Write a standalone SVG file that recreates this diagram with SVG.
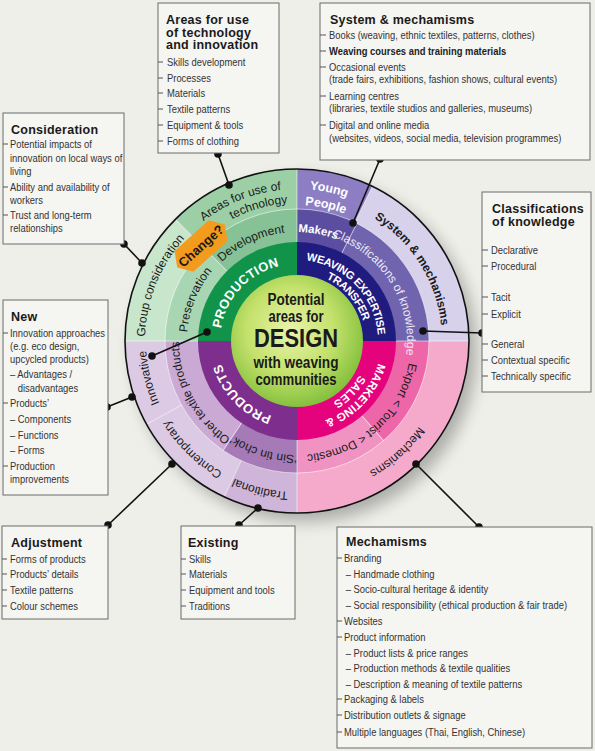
<svg xmlns="http://www.w3.org/2000/svg" width="595" height="751" viewBox="0 0 595 751">
<defs>
<style>
.bx{fill:#f5f5f2;stroke:#6b6b6b;stroke-width:1}
.tt{font-family:"Liberation Sans",Arial,sans-serif;font-size:12.5px;font-weight:bold;letter-spacing:0.25px;fill:#1a1a1a}
.it{font-family:"Liberation Sans",Arial,sans-serif;font-size:11px;fill:#333}
.tk{stroke:#555;stroke-width:1}
.wl{font-family:"Liberation Sans",Arial,sans-serif;font-size:12px;fill:#1a1a1a}
.ww{font-family:"Liberation Sans",Arial,sans-serif;font-weight:bold;fill:#fff}
.ct{font-family:"Liberation Sans",Arial,sans-serif;font-weight:bold;fill:#1a1a1a;text-anchor:middle}
.sep{stroke:#fff;stroke-opacity:0.55;stroke-width:1}
.cn{stroke:#111;stroke-width:1.6;fill:none}
.dot{fill:#111}
</style>
<radialGradient id="cg" cx="0.45" cy="0.42" r="0.6">
<stop offset="0" stop-color="#e8f4aa"/><stop offset="0.55" stop-color="#c4e16c"/><stop offset="1" stop-color="#80bf3a"/>
</radialGradient>
<filter id="sh" x="-30%" y="-30%" width="160%" height="160%"><feGaussianBlur stdDeviation="8"/></filter>
<path id="a69" d="M -67.95 -11.98 A 69 69 0 0 1 67.95 -11.98"/>
<path id="a71" d="M -69.92 -12.33 A 71 71 0 0 1 69.92 -12.33"/>
<path id="a77" d="M -75.83 -13.37 A 77 77 0 0 1 75.83 -13.37"/>
<path id="a79" d="M -77.80 -13.72 A 79 79 0 0 1 77.80 -13.72"/>
<path id="a81" d="M -79.77 -14.07 A 81 81 0 0 1 79.77 -14.07"/>
<path id="a84" d="M -82.72 -14.59 A 84 84 0 0 1 82.72 -14.59"/>
<path id="a109" d="M -107.34 -18.93 A 109 109 0 0 1 107.34 -18.93"/>
<path id="a110" d="M -108.33 -19.10 A 110 110 0 0 1 108.33 -19.10"/>
<path id="a114" d="M -112.27 -19.80 A 114 114 0 0 1 112.27 -19.80"/>
<path id="a118" d="M -116.21 -20.49 A 118 118 0 0 1 116.21 -20.49"/>
<path id="a136" d="M -133.93 -23.62 A 136 136 0 0 1 133.93 -23.62"/>
<path id="a138" d="M -135.90 -23.96 A 138 138 0 0 1 135.90 -23.96"/>
<path id="a145" d="M -142.80 -25.18 A 145 145 0 0 1 142.80 -25.18"/>
<path id="a149" d="M -146.74 -25.87 A 149 149 0 0 1 146.74 -25.87"/>
<path id="a151" d="M -148.70 -26.22 A 151 151 0 0 1 148.70 -26.22"/>
<path id="a152" d="M -149.69 -26.39 A 152 152 0 0 1 149.69 -26.39"/>
</defs>
<rect width="595" height="751" fill="#efefea"/>

<!-- wheel -->
<g id="wheel">
<circle cx="305" cy="350" r="172" fill="#000" opacity="0.28" filter="url(#sh)"/>
<g id="segments" transform="translate(297 341)">
<g id="outer-ring">
<path d="M0 0L0 -172A172 172 0 0 1 121.62 -121.62Z" transform="rotate(270)" fill="#c8e6cb"/>
<path d="M0 0L0 -172A172 172 0 0 1 121.62 -121.62Z" transform="rotate(315)" fill="#9dcfa7"/>
<path d="M0 0L0 -172A172 172 0 0 1 75.40 -154.59Z" fill="#8d7ec3"/>
<path d="M0 0L0 -172A172 172 0 0 1 154.59 -75.40Z" transform="rotate(26)" fill="#d7d1ec"/>
<path d="M0 0L0 -172A172 172 0 0 1 172 0Z" transform="rotate(90)" fill="#f5a9cb"/>
<path d="M0 0L0 -172A172 172 0 0 1 72.69 -155.89Z" transform="rotate(180)" fill="#cfb5d9"/>
<path d="M0 0L0 -172A172 172 0 0 1 101.10 -139.15Z" transform="rotate(205)" fill="#dccae4"/>
<path d="M0 0L0 -172A172 172 0 0 1 83.39 -150.43Z" transform="rotate(241)" fill="#dccae4"/>
</g>
<g id="middle-ring">
<path d="M0 0L0 -132A132 132 0 0 1 93.34 -93.34Z" transform="rotate(270)" fill="#a8d6b2"/>
<path d="M0 0L0 -132A132 132 0 0 1 93.34 -93.34Z" transform="rotate(315)" fill="#86c295"/>
<path d="M0 0L0 -132A132 132 0 0 1 59.93 -117.61Z" fill="#5b4d9f"/>
<path d="M0 0L0 -132A132 132 0 0 1 117.61 -59.93Z" transform="rotate(27)" fill="#6f64ad"/>
<path d="M0 0L0 -132A132 132 0 0 1 99.62 -86.60Z" transform="rotate(90)" fill="#ed67a8"/>
<path d="M0 0L0 -132A132 132 0 0 1 86.60 -99.62Z" transform="rotate(139)" fill="#f193c2"/>
<path d="M0 0L0 -132A132 132 0 0 1 73.81 -109.43Z" transform="rotate(180)" fill="#a57ab6"/>
<path d="M0 0L0 -132A132 132 0 0 1 109.43 -73.81Z" transform="rotate(214)" fill="#caaad5"/>
</g>
<g id="inner-ring">
<path d="M0 0L0 -99A99 99 0 0 1 99 0Z" transform="rotate(270)" fill="#119349"/>
<path d="M0 0L0 -99A99 99 0 0 1 99 0Z" fill="#201c7f"/>
<path d="M0 0L0 -99A99 99 0 0 1 99 0Z" transform="rotate(90)" fill="#e5027d"/>
<path d="M0 0L0 -99A99 99 0 0 1 99 0Z" transform="rotate(180)" fill="#7e2e8d"/>
</g>
<g id="separators">
<circle r="132" class="sep" fill="none"/>
<line class="sep" x1="0" y1="-132" x2="0" y2="-172" transform="rotate(26)"/>
<line class="sep" x1="0" y1="-132" x2="0" y2="-172" transform="rotate(90)"/>
<line class="sep" x1="0" y1="-132" x2="0" y2="-172" transform="rotate(180)"/>
<line class="sep" x1="0" y1="-132" x2="0" y2="-172" transform="rotate(205)"/>
<line class="sep" x1="0" y1="-132" x2="0" y2="-172" transform="rotate(241)"/>
<line class="sep" x1="0" y1="-132" x2="0" y2="-172" transform="rotate(270)"/>
<line class="sep" x1="0" y1="-132" x2="0" y2="-172" transform="rotate(315)"/>
<line class="sep" x1="0" y1="-132" x2="0" y2="-172"/>
<line class="sep" x1="0" y1="-99" x2="0" y2="-132"/>
<line class="sep" x1="0" y1="-99" x2="0" y2="-132" transform="rotate(27)"/>
<line class="sep" x1="0" y1="-99" x2="0" y2="-132" transform="rotate(90)"/>
<line class="sep" x1="0" y1="-99" x2="0" y2="-132" transform="rotate(139)"/>
<line class="sep" x1="0" y1="-99" x2="0" y2="-132" transform="rotate(180)"/>
<line class="sep" x1="0" y1="-99" x2="0" y2="-132" transform="rotate(214)"/>
<line class="sep" x1="0" y1="-99" x2="0" y2="-132" transform="rotate(270)"/>
<line class="sep" x1="0" y1="-99" x2="0" y2="-132" transform="rotate(315)"/>
</g>
</g>
<circle cx="297" cy="341" r="172" fill="none" stroke="#111" stroke-width="1.6"/>

<g id="center">
<circle cx="297" cy="341" r="66" fill="url(#cg)"/>
<text class="ct" x="296" y="305" font-size="16" textLength="57" lengthAdjust="spacingAndGlyphs">Potential</text>
<text class="ct" x="296" y="322" font-size="16" textLength="55" lengthAdjust="spacingAndGlyphs">areas for</text>
<text class="ct" x="296" y="347" font-size="25" textLength="84" lengthAdjust="spacingAndGlyphs">DESIGN</text>
<text class="ct" x="296" y="368" font-size="16" textLength="85" lengthAdjust="spacingAndGlyphs">with weaving</text>
<text class="ct" x="296" y="385" font-size="16" textLength="81" lengthAdjust="spacingAndGlyphs">communities</text>
</g>

<g id="production"><g transform="translate(297 341) rotate(313)"><text class="ww" font-size="13" letter-spacing="0.3"><textPath href="#a77" startOffset="50%" text-anchor="middle">PRODUCTION</textPath></text></g></g>
<g id="weaving-transfer">
<g transform="translate(297 341) rotate(46)"><text class="ww" font-size="11" letter-spacing="-0.3"><textPath href="#a81" startOffset="50%" text-anchor="middle">WEAVING EXPERTISE</textPath></text></g>
<g transform="translate(297 341) rotate(49)"><text class="ww" font-size="11" letter-spacing="-0.3"><textPath href="#a69" startOffset="50%" text-anchor="middle">TRANSFER</textPath></text></g>
</g>
<g id="marketing-sales">
<g transform="translate(297 341) rotate(133)"><text class="ww" font-size="11.5"><textPath href="#a84" startOffset="50%" text-anchor="middle">MARKETING &amp;</textPath></text></g>
<g transform="translate(297 341) rotate(134)"><text class="ww" font-size="11.5"><textPath href="#a71" startOffset="50%" text-anchor="middle">SALES</textPath></text></g>
</g>
<g id="products"><g transform="translate(297 341) rotate(226)"><text class="ww" font-size="13" letter-spacing="0.3"><textPath href="#a79" startOffset="50%" text-anchor="middle">PRODUCTS</textPath></text></g></g>

<g id="development"><g transform="translate(297 341) rotate(335)"><text class="wl" font-size="12.5"><textPath href="#a109" startOffset="50%" text-anchor="middle">Development</textPath></text></g></g>
<g id="preservation"><g transform="translate(297 341) rotate(292)"><text class="wl" font-size="12.5"><textPath href="#a110" startOffset="50%" text-anchor="middle">Preservation</textPath></text></g></g>
<g id="makers"><g transform="translate(297 341) rotate(11)"><text class="ww" font-size="11.5"><textPath href="#a109" startOffset="50%" text-anchor="middle">Makers</textPath></text></g></g>
<g id="classifications"><g transform="translate(297 341) rotate(58)"><text class="wl" font-size="8.8" style="fill:#ece8f6"><textPath href="#a110" startOffset="50%" text-anchor="middle">Classifications of knowledge</textPath></text></g></g>
<g id="export"><g transform="translate(297 341) rotate(138)"><text class="wl"><textPath href="#a114" startOffset="50%" text-anchor="middle">Export &lt; Tourist &lt; Domestic</textPath></text></g></g>
<g id="sin-tin-chok"><g transform="translate(297 341) rotate(197)"><text class="wl"><textPath href="#a114" startOffset="50%" text-anchor="middle">‘Sin tin chok’</textPath></text></g></g>
<g id="other-textile"><g transform="translate(297 341) rotate(242)"><text class="wl"><textPath href="#a118" startOffset="50%" text-anchor="middle">Other textile products</textPath></text></g></g>

<g id="areas-tech">
<g transform="translate(297 341) rotate(338)"><text class="wl" font-size="12.5"><textPath href="#a152" startOffset="50%" text-anchor="middle">Areas for use of</textPath></text></g>
<g transform="translate(297 341) rotate(344)"><text class="wl" font-size="12.5"><textPath href="#a138" startOffset="50%" text-anchor="middle">technology</textPath></text></g>
</g>
<g id="group-consideration"><g transform="translate(297 341) rotate(292)"><text class="wl" font-size="12.5"><textPath href="#a152" startOffset="50%" text-anchor="middle">Group consideration</textPath></text></g></g>
<g id="young-people">
<g transform="translate(297 341) rotate(12)"><text class="ww" font-size="12.5"><textPath href="#a152" startOffset="50%" text-anchor="middle">Young</textPath></text></g>
<g transform="translate(297 341) rotate(12)"><text class="ww" font-size="12.5"><textPath href="#a136" startOffset="50%" text-anchor="middle">People</textPath></text></g>
</g>
<g id="system-mech"><g transform="translate(297 341) rotate(58)"><text class="wl" font-size="11.5" font-weight="bold"><textPath href="#a145" startOffset="50%" text-anchor="middle">System &amp; mechanisms</textPath></text></g></g>
<g id="mechanisms-ring"><g transform="translate(297 341) rotate(138)"><text class="wl" font-size="12.5"><textPath href="#a149" startOffset="50%" text-anchor="middle">Mechanisms</textPath></text></g></g>
<g id="traditional"><g transform="translate(297 341) rotate(194)"><text class="wl" font-size="12.5"><textPath href="#a151" startOffset="50%" text-anchor="middle">Traditional</textPath></text></g></g>
<g id="contemporary"><g transform="translate(297 341) rotate(224)"><text class="wl" font-size="12.5"><textPath href="#a151" startOffset="50%" text-anchor="middle">Contemporary</textPath></text></g></g>
<g id="innovative"><g transform="translate(297 341) rotate(256)"><text class="wl" font-size="12.5"><textPath href="#a151" startOffset="50%" text-anchor="middle">Innovative</textPath></text></g></g>

<g id="change" transform="translate(201 246) rotate(-42)">
<polygon points="-32,0 -23,-14 23,-14 32,0 23,14 -23,14" fill="#f39b1d"/>
<text class="ct" x="0" y="4.5" font-size="13">Change?</text>
</g>
</g>

<!-- connectors -->
<g id="connectors">
<line class="cn" x1="218" y1="154" x2="229" y2="185"/>
<line class="cn" x1="380" y1="159" x2="353" y2="223"/>
<line class="cn" x1="124" y1="244" x2="142" y2="263"/>
<line class="cn" x1="107" y1="407" x2="132" y2="397"/>
<line class="cn" x1="152" y1="356" x2="207" y2="332"/>
<line class="cn" x1="423" y1="331" x2="482" y2="333"/>
<line class="cn" x1="108" y1="525" x2="172" y2="464"/>
<line class="cn" x1="239" y1="525" x2="258" y2="508"/>
<line class="cn" x1="479" y1="527" x2="416" y2="464"/>
<circle class="dot" cx="218" cy="154" r="3.8"/><circle class="dot" cx="229" cy="185" r="3.8"/>
<circle class="dot" cx="380" cy="159" r="3.8"/><circle class="dot" cx="353" cy="223" r="3.8"/>
<circle class="dot" cx="124" cy="244" r="3.8"/><circle class="dot" cx="142" cy="263" r="3.8"/>
<circle class="dot" cx="107" cy="407" r="3.8"/><circle class="dot" cx="132" cy="397" r="3.8"/>
<circle class="dot" cx="152" cy="356" r="3.8"/><circle class="dot" cx="207" cy="332" r="3.8"/>
<circle class="dot" cx="423" cy="331" r="3.8"/><circle class="dot" cx="482" cy="333" r="3.8"/>
<circle class="dot" cx="108" cy="525" r="3.8"/><circle class="dot" cx="172" cy="464" r="3.8"/>
<circle class="dot" cx="239" cy="525" r="3.8"/><circle class="dot" cx="258" cy="508" r="3.8"/>
<circle class="dot" cx="479" cy="527" r="3.8"/><circle class="dot" cx="416" cy="464" r="3.8"/>
</g>

<!-- boxes -->
<g id="box-areas">
<rect class="bx" x="158" y="3" width="121" height="150"/>
<text class="tt" x="166" y="24">Areas for use</text>
<text class="tt" x="166" y="36.5">of technology</text>
<text class="tt" x="166" y="49">and innovation</text>
<g class="tk"><line x1="158" y1="62" x2="163" y2="62"/><line x1="158" y1="78" x2="163" y2="78"/><line x1="158" y1="93" x2="163" y2="93"/><line x1="158" y1="109" x2="163" y2="109"/><line x1="158" y1="125" x2="163" y2="125"/><line x1="158" y1="141" x2="163" y2="141"/></g>
<g class="it" transform="translate(167 0) scale(0.855 1)">
<text y="66">Skills development</text><text y="82">Processes</text><text y="97">Materials</text><text y="113">Textile patterns</text><text y="129">Equipment &amp; tools</text><text y="145">Forms of clothing</text>
</g>
</g>

<g id="box-system">
<rect class="bx" x="320" y="3" width="270" height="157"/>
<text class="tt" x="330" y="24">System &amp; mechamisms</text>
<g class="tk"><line x1="320" y1="35" x2="326" y2="35"/><line x1="320" y1="51" x2="326" y2="51"/><line x1="320" y1="67" x2="326" y2="67"/><line x1="320" y1="96" x2="326" y2="96"/><line x1="320" y1="125" x2="326" y2="125"/></g>
<g class="it" transform="translate(329 0) scale(0.855 1)">
<text y="39">Books (weaving, ethnic textiles, patterns, clothes)</text>
<text y="55" font-weight="bold" fill="#222">Weaving courses and training materials</text>
<text y="71">Occasional events</text>
<text y="83">(trade fairs, exhibitions, fashion shows, cultural events)</text>
<text y="100">Learning centres</text>
<text y="112">(libraries, textile studios and galleries, museums)</text>
<text y="129">Digital and online media</text>
<text y="142">(websites, videos, social media, television programmes)</text>
</g>
</g>

<g id="box-consideration">
<rect class="bx" x="3" y="113" width="121" height="131"/>
<text class="tt" x="11" y="134">Consideration</text>
<g class="tk"><line x1="3" y1="144" x2="8" y2="144"/><line x1="3" y1="187" x2="8" y2="187"/><line x1="3" y1="215" x2="8" y2="215"/></g>
<g class="it" transform="translate(10 0) scale(0.855 1)">
<text y="148">Potential impacts of</text><text y="162">innovation on local ways of</text><text y="175">living</text>
<text y="191">Ability and availability of</text><text y="204">workers</text>
<text y="219">Trust and long-term</text><text y="232">relationships</text>
</g>
</g>

<g id="box-new">
<rect class="bx" x="3" y="300" width="105" height="195"/>
<text class="tt" x="11" y="321">New</text>
<g class="tk"><line x1="3" y1="333" x2="8" y2="333"/><line x1="3" y1="403" x2="8" y2="403"/><line x1="3" y1="466" x2="8" y2="466"/></g>
<g class="it" transform="translate(10 0) scale(0.855 1)">
<text y="337">Innovation approaches</text><text y="350">(e.g. eco design,</text><text y="363">upcycled products)</text>
<text y="378">– Advantages /</text><text x="9" y="392">disadvantages</text>
<text y="407">Products’</text><text y="423">– Components</text><text y="439">– Functions</text><text y="454">– Forms</text>
<text y="470">Production</text><text y="483">improvements</text>
</g>
</g>

<g id="box-classifications">
<rect class="bx" x="482" y="192" width="109" height="200"/>
<text class="tt" x="492" y="213">Classifications</text>
<text class="tt" x="492" y="226">of knowledge</text>
<g class="tk"><line x1="482" y1="250" x2="488" y2="250"/><line x1="482" y1="266" x2="488" y2="266"/><line x1="482" y1="297" x2="488" y2="297"/><line x1="482" y1="314" x2="488" y2="314"/><line x1="482" y1="344" x2="488" y2="344"/><line x1="482" y1="360" x2="488" y2="360"/><line x1="482" y1="376" x2="488" y2="376"/></g>
<g class="it" transform="translate(491 0) scale(0.855 1)">
<text y="254">Declarative</text><text y="270">Procedural</text><text y="301">Tacit</text><text y="318">Explicit</text>
<text y="348">General</text><text y="364">Contextual specific</text><text y="380">Technically specific</text>
</g>
</g>

<g id="box-adjustment">
<rect class="bx" x="2" y="526" width="106" height="93"/>
<text class="tt" x="11" y="547">Adjustment</text>
<g class="tk"><line x1="2" y1="559" x2="7" y2="559"/><line x1="2" y1="574" x2="7" y2="574"/><line x1="2" y1="590" x2="7" y2="590"/><line x1="2" y1="606" x2="7" y2="606"/></g>
<g class="it" transform="translate(10 0) scale(0.855 1)">
<text y="563">Forms of products</text><text y="578">Products’ details</text><text y="594">Textile patterns</text><text y="610">Colour schemes</text>
</g>
</g>

<g id="box-existing">
<rect class="bx" x="181" y="526" width="114" height="93"/>
<text class="tt" x="188" y="547">Existing</text>
<g class="tk"><line x1="181" y1="559" x2="186" y2="559"/><line x1="181" y1="574" x2="186" y2="574"/><line x1="181" y1="590" x2="186" y2="590"/><line x1="181" y1="606" x2="186" y2="606"/></g>
<g class="it" transform="translate(189 0) scale(0.855 1)">
<text y="563">Skills</text><text y="578">Materials</text><text y="594">Equipment and tools</text><text y="610">Traditions</text>
</g>
</g>

<g id="box-mechamisms">
<rect class="bx" x="337" y="527" width="255" height="221"/>
<text class="tt" x="346" y="546">Mechamisms</text>
<g class="tk"><line x1="337" y1="558" x2="342" y2="558"/><line x1="337" y1="621" x2="342" y2="621"/><line x1="337" y1="637" x2="342" y2="637"/><line x1="337" y1="699" x2="342" y2="699"/><line x1="337" y1="715" x2="342" y2="715"/><line x1="337" y1="732" x2="342" y2="732"/></g>
<g class="it" transform="translate(344 0) scale(0.855 1)">
<text y="562">Branding</text>
<text x="2" y="578">– Handmade clothing</text>
<text x="2" y="593">– Socio-cultural heritage &amp; identity</text>
<text x="2" y="609">– Social responsibility (ethical production &amp; fair trade)</text>
<text y="625">Websites</text>
<text y="641">Product information</text>
<text x="2" y="657">– Product lists &amp; price ranges</text>
<text x="2" y="672">– Production methods &amp; textile qualities</text>
<text x="2" y="688">– Description &amp; meaning of textile patterns</text>
<text y="703">Packaging &amp; labels</text>
<text y="719">Distribution outlets &amp; signage</text>
<text y="736">Multiple languages (Thai, English, Chinese)</text>
</g>
</g>
</svg>
